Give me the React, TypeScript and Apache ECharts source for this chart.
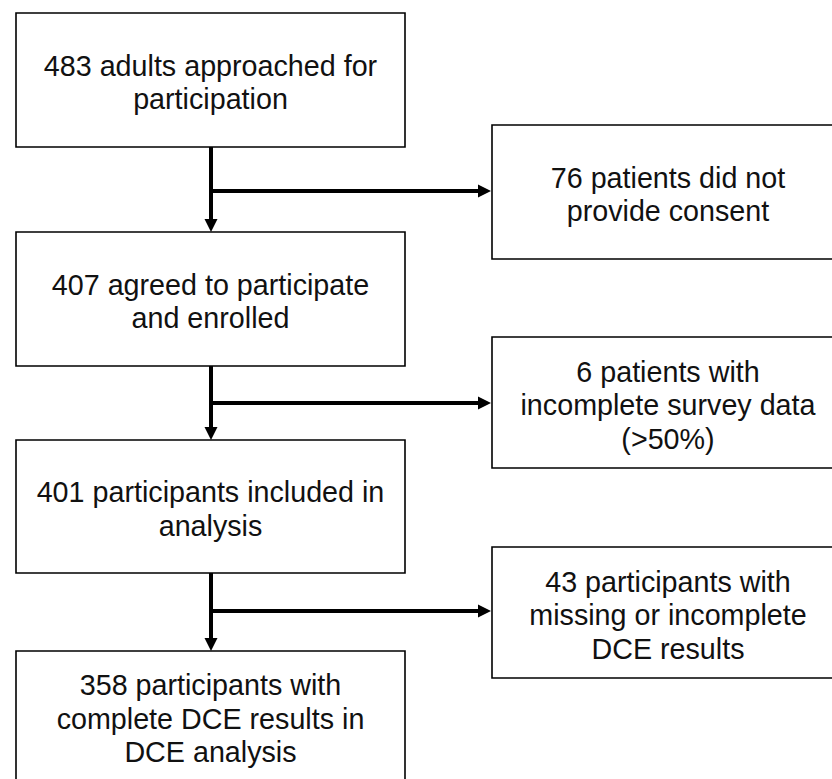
import React, { useEffect, useRef } from "react";
import * as echarts from "echarts";

// ---- Data (flow content) ----
const mainSteps: string[] = [
  "483 adults approached for\nparticipation",
  "407 agreed to participate\nand enrolled",
  "401 participants included in\nanalysis",
  "358 participants with\ncomplete DCE results in\nDCE analysis",
];

const exclusions: string[] = [
  "76 patients did not\nprovide consent",
  "6 patients with\nincomplete survey data\n(>50%)",
  "43 participants with\nmissing or incomplete\nDCE results",
];

// ---- Layout (kept separate from data) ----
const LEFT_X0 = 16;
const LEFT_X1 = 405;
const mainTops = [13, 232, 440, 651];
const mainBottoms = [147, 366, 573, 781];
const RIGHT_X0 = 492;
const RIGHT_X1 = 850;
const exTops = [125, 337, 547];
const exBottoms = [259, 468, 678];
const branchY = [191, 403, 611];
const SPINE_X = 211;
const FONT = '28.7px "Liberation Sans", Arial, Helvetica, sans-serif';
const LINE_H = 33.5;
const TEXT_DY = 2.5;

export default function App() {
  const ref = useRef<HTMLDivElement>(null);

  useEffect(() => {
    if (!ref.current) return;
    const chart = echarts.init(ref.current, undefined, { renderer: "svg" });
    const els: any[] = [];
    const ink = "#000";

    mainSteps.forEach((t, i) => {
      els.push({
        type: "rect",
        shape: { x: LEFT_X0, y: mainTops[i], width: LEFT_X1 - LEFT_X0, height: mainBottoms[i] - mainTops[i] },
        style: { fill: "#fff", stroke: ink, lineWidth: 1.6 },
      });
      els.push({
        type: "text",
        style: {
          text: t,
          x: (LEFT_X0 + LEFT_X1) / 2,
          y: (mainTops[i] + mainBottoms[i]) / 2 + TEXT_DY,
          font: FONT,
          fill: "#111",
          align: "center",
          verticalAlign: "middle",
          lineHeight: LINE_H,
        },
      });
    });

    exclusions.forEach((t, i) => {
      els.push({
        type: "rect",
        shape: { x: RIGHT_X0, y: exTops[i], width: RIGHT_X1 - RIGHT_X0, height: exBottoms[i] - exTops[i] },
        style: { fill: "#fff", stroke: ink, lineWidth: 1.6 },
      });
      els.push({
        type: "text",
        style: {
          text: t,
          x: 668,
          y: (exTops[i] + exBottoms[i]) / 2 + TEXT_DY,
          font: FONT,
          fill: "#111",
          align: "center",
          verticalAlign: "middle",
          lineHeight: LINE_H,
        },
      });
    });

    // Connectors
    for (let i = 0; i < mainSteps.length - 1; i++) {
      const y0 = mainBottoms[i];
      const y1 = mainTops[i + 1];
      els.push({
        type: "line",
        shape: { x1: SPINE_X, y1: y0, x2: SPINE_X, y2: y1 - 11 },
        style: { stroke: ink, lineWidth: 4 },
      });
      els.push({
        type: "polygon",
        shape: { points: [[SPINE_X - 6.5, y1 - 13], [SPINE_X + 6.5, y1 - 13], [SPINE_X, y1]] },
        style: { fill: ink },
      });
      const by = branchY[i];
      els.push({
        type: "line",
        shape: { x1: SPINE_X, y1: by, x2: RIGHT_X0 - 11, y2: by },
        style: { stroke: ink, lineWidth: 4 },
      });
      els.push({
        type: "polygon",
        shape: { points: [[RIGHT_X0 - 14, by - 6.5], [RIGHT_X0 - 14, by + 6.5], [RIGHT_X0 - 1, by]] },
        style: { fill: ink },
      });
    }

    chart.setOption({
      animation: false,
      backgroundColor: "#fff",
      graphic: { elements: els },
    });
    return () => chart.dispose();
  }, []);

  return (
    <div
      ref={ref}
      style={{ position: "fixed", left: 0, top: 0, width: 832, height: 779, background: "#fff" }}
    />
  );
}
